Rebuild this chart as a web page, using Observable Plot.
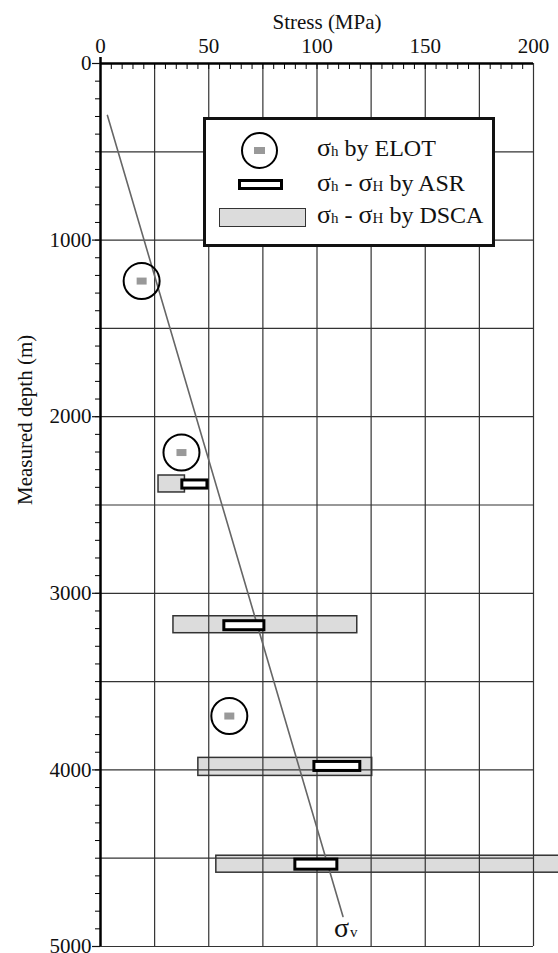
<!DOCTYPE html>
<html><head><meta charset="utf-8">
<script src="https://cdn.jsdelivr.net/npm/d3@7"></script>
<script src="https://cdn.jsdelivr.net/npm/@observablehq/plot@0.6"></script>
<style>
body{margin:0;background:#fff;}
#wrap{position:relative;width:558px;height:953px;font-family:"Liberation Serif","Times New Roman",serif;color:#111;overflow:hidden;}
#wrap svg text{font-family:"Liberation Serif","Times New Roman",serif;}
#legend{position:absolute;left:203px;top:117px;width:292px;height:130px;box-sizing:border-box;border:3px solid #111;background:#fff;}
#legend .sym{position:absolute;box-sizing:border-box;}
#legend .txt{position:absolute;left:111px;font-size:24px;line-height:24px;white-space:nowrap;}
.sg{font-size:26px;}
.sb{font-size:15px;}
</style></head>
<body><div id="wrap"></div>
<script>
// ELOT: sigma_h points
const elotStress = [19, 37.4, 59.5];
const elotDepth = [1232, 2203, 3695];
// ASR: sigma_h - sigma_H ranges
const asrMin = [37.8, 57.2, 98.8, 90];
const asrMax = [49.4, 75.7, 120, 109.4];
const asrTop = [2361, 3158, 3955, 4508];
const asrBottom = [2407, 3209, 4006, 4565];
// DSCA: sigma_h - sigma_H ranges
const dscaMin = [26.8, 33.7, 45.2, 53.5];
const dscaMax = [39, 118.6, 125.5, 215];
const dscaTop = [2333, 3130, 3932, 4486];
const dscaBottom = [2429, 3226, 4034, 4582];
// sigma_v line
const svStress = [3.2, 112];
const svDepth = [294, 4830];
// ticks
const stressTicks = [0, 50, 100, 150, 200];
const stressGrid = [25, 50, 75, 100, 125, 150, 175, 200];
const stressMinor = d3.range(5, 200, 5);
const depthTicks = [0, 1000, 2000, 3000, 4000, 5000];
const depthGrid = [500, 1000, 1500, 2000, 2500, 3000, 3500, 4000, 4500, 5000];
const depthMinor = d3.range(100, 5000, 100);

const elot = elotStress.map((s, i) => ({stress: s, depth: elotDepth[i]}));
const asr = asrMin.map((m, i) => ({min: m, max: asrMax[i], top: asrTop[i], bottom: asrBottom[i]}));
const dsca = dscaMin.map((m, i) => ({min: m, max: dscaMax[i], top: dscaTop[i], bottom: dscaBottom[i]}));
const sv = svStress.map((s, i) => ({stress: s, depth: svDepth[i]}));

const barSymbol = {draw(ctx) { ctx.rect(-5, -3.5, 10, 7); }};
const font = "'Liberation Serif', 'Times New Roman', serif";

const chart = Plot.plot({
  width: 558, height: 953,
  marginLeft: 100, marginRight: 25, marginTop: 63, marginBottom: 7,
  x: {domain: [0, 200], axis: null},
  y: {domain: [0, 5000], reverse: true, axis: null},
  style: "font-family:'Liberation Serif','Times New Roman',serif;font-size:21px;color:#111;background:#fff;overflow:visible;",
  marks: [
    Plot.rect(dsca, {x1: "min", x2: "max", y1: "top", y2: "bottom", fill: "#dcdcdc", stroke: "#333", strokeWidth: 1.5}),
    Plot.ruleX(stressGrid, {stroke: "#333", strokeWidth: 1.2}),
    Plot.ruleY(depthGrid, {stroke: "#333", strokeWidth: 1.2}),
    Plot.line(sv, {x: "stress", y: "depth", stroke: "#666", strokeWidth: 1.6}),
    Plot.rect(asr, {x1: "min", x2: "max", y1: "top", y2: "bottom", fill: "#fff", stroke: "#000", strokeWidth: 3}),
    Plot.dot(elot, {x: "stress", y: "depth", r: 18, stroke: "#000", strokeWidth: 2, fill: "none"}),
    Plot.dot(elot, {x: "stress", y: "depth", symbol: barSymbol, fill: "#999", stroke: "none"}),
    Plot.ruleX([0], {stroke: "#000", strokeWidth: 2.5, insetTop: -6}),
    Plot.ruleY([0], {stroke: "#000", strokeWidth: 2.5}),
    Plot.tickX(stressMinor, {x: d => d, insetBottom: 877, stroke: "#000", strokeWidth: 1}),
    Plot.tickY(depthMinor, {y: d => d, insetLeft: -5, insetRight: 433, stroke: "#000", strokeWidth: 1}),
    Plot.axisX(stressTicks, {anchor: "top", tickSize: 0, tickPadding: 11, label: null, fontSize: 21, fontFamily: font, tickFormat: d => String(d)}),
    Plot.axisY(depthTicks, {anchor: "left", tickSize: 8, tickPadding: 1, label: null, fontSize: 21, fontFamily: font, tickFormat: d => String(d), strokeWidth: 1.2}),
    Plot.text(["Stress (MPa)"], {frameAnchor: "top", dy: -49, dx: 10, fontSize: 21, fontFamily: font, fill: "#111"}),
    Plot.text(["Measured depth (m)"], {frameAnchor: "left", rotate: -90, dx: -75, fontSize: 21, fontFamily: font, fill: "#111"}),
    Plot.text(sv.slice(-1), {x: "stress", y: "depth", text: () => "σ", dx: -9, dy: 12, fontSize: 28, fontFamily: font, fill: "#111", textAnchor: "start"}),
    Plot.text(sv.slice(-1), {x: "stress", y: "depth", text: () => "v", dx: 7, dy: 16, fontSize: 15, fontFamily: font, fill: "#111", textAnchor: "start"})
  ]
});

const wrap = document.getElementById("wrap");
wrap.appendChild(chart);

const legend = document.createElement("div");
legend.id = "legend";
legend.innerHTML = `
  <div class="sym" style="left:35px;top:12px;width:37px;height:37px;border:2px solid #000;border-radius:50%;"></div>
  <div class="sym" style="left:48px;top:27px;width:11px;height:7px;background:#999;"></div>
  <div class="sym" style="left:32px;top:59px;width:45px;height:11px;border:3px solid #000;background:#fff;"></div>
  <div class="sym" style="left:13px;top:88px;width:87px;height:19px;border:1.5px solid #333;background:#dcdcdc;"></div>
  <div class="txt" style="top:16px;"><span class="sg">σ</span><span class="sb">h</span> by ELOT</div>
  <div class="txt" style="top:51px;"><span class="sg">σ</span><span class="sb">h</span> - <span class="sg">σ</span><span class="sb">H</span> by ASR</div>
  <div class="txt" style="top:83px;"><span class="sg">σ</span><span class="sb">h</span> - <span class="sg">σ</span><span class="sb">H</span> by DSCA</div>
`;
wrap.appendChild(legend);
</script>
</body></html>
